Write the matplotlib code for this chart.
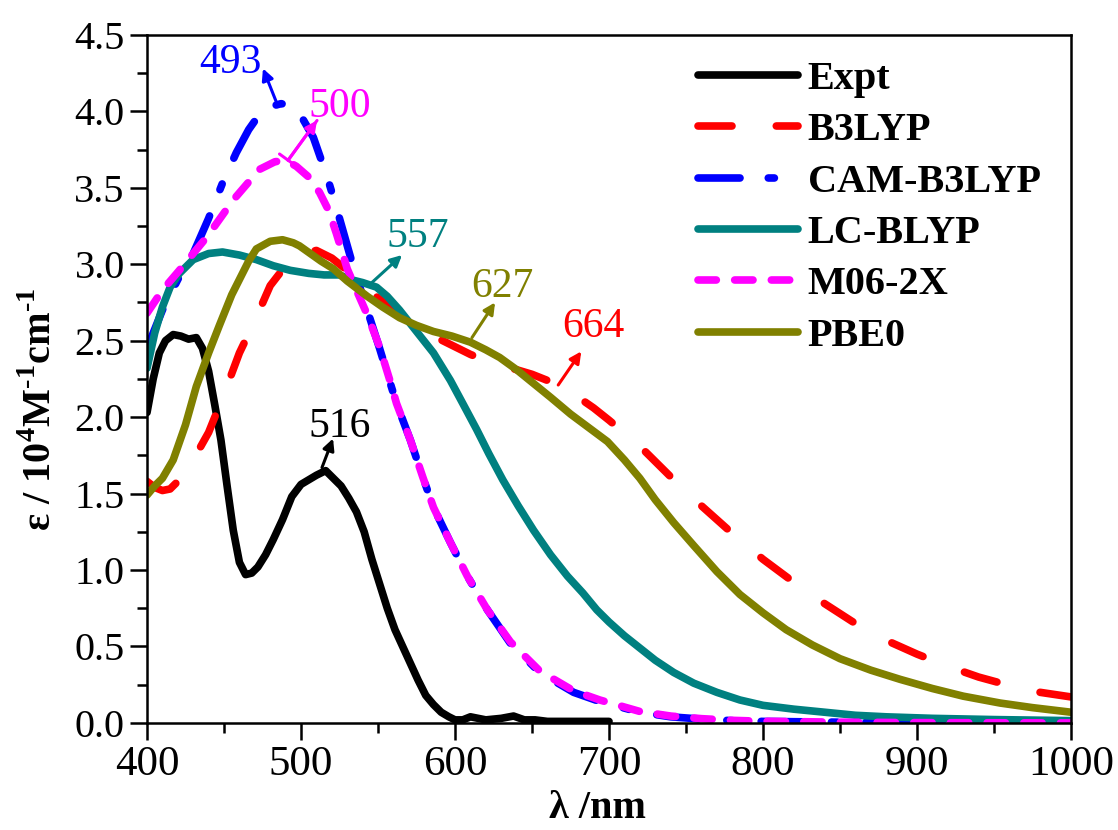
import numpy as np
import matplotlib
matplotlib.use('Agg')
import matplotlib.pyplot as plt

plt.rcParams['font.family'] = ['Liberation Serif', 'DejaVu Serif']
plt.rcParams['mathtext.fontset'] = 'custom'
plt.rcParams['mathtext.rm'] = 'Liberation Serif'
plt.rcParams['mathtext.bf'] = 'Liberation Serif:bold'

# Expt (experimental spectrum)
expt_x = [400, 404, 408, 412, 417, 422, 427, 432, 436, 440, 444, 448, 452, 456, 460, 464, 468, 472,
          477, 482, 488, 494, 500, 505, 510, 516, 521, 526, 531, 536, 541, 546, 551, 556, 561, 566,
          571, 576, 581, 586, 591, 596, 600, 605, 610, 615, 620, 630, 638, 645, 652, 660, 680, 700]
expt_y = [2.03, 2.25, 2.42, 2.50, 2.54, 2.53, 2.51, 2.52, 2.45, 2.30, 2.08, 1.85, 1.55, 1.26, 1.05, 0.97, 0.98, 1.02,
          1.10, 1.20, 1.33, 1.48, 1.56, 1.59, 1.62, 1.65, 1.60, 1.55, 1.47, 1.38, 1.25, 1.07, 0.91, 0.75, 0.61, 0.50,
          0.39, 0.28, 0.18, 0.12, 0.07, 0.04, 0.02, 0.02, 0.04, 0.03, 0.02, 0.03, 0.045, 0.02, 0.02, 0.01, 0.01, 0.01]

b3lyp_x = [400, 405, 410, 415, 420, 430, 440, 450, 460, 470, 480, 490, 500, 510, 520, 530, 540, 550, 560, 570,
           580, 590, 600, 610, 620, 630, 640, 650, 660, 670, 680, 690, 700, 720, 740, 760, 780, 800, 820, 840,
           860, 880, 900, 920, 940, 960, 980, 1000]
b3lyp_y = [1.58, 1.54, 1.52, 1.53, 1.58, 1.72, 1.90, 2.15, 2.42, 2.63, 2.86, 2.99, 3.07, 3.09, 3.04, 2.96, 2.86, 2.78, 2.70, 2.63,
           2.56, 2.51, 2.46, 2.41, 2.37, 2.34, 2.31, 2.28, 2.24, 2.19, 2.13, 2.06, 1.98, 1.81, 1.61, 1.42, 1.24, 1.07, 0.92, 0.78,
           0.65, 0.54, 0.45, 0.37, 0.30, 0.245, 0.20, 0.17]

cam_x = [400, 410, 420, 430, 440, 449, 458, 466, 473, 480, 487, 493, 500, 508, 517, 523, 534, 543, 551, 558, 562,
         571, 579, 586, 597, 608, 621, 636, 655, 677, 694, 720, 740, 760, 780, 800, 850, 900, 1000]
cam_y = [2.45, 2.70, 2.90, 3.07, 3.30, 3.53, 3.73, 3.88, 3.98, 4.03, 4.05, 4.04, 3.97, 3.83, 3.57, 3.37, 2.98, 2.70, 2.45, 2.22, 2.09,
         1.85, 1.61, 1.41, 1.18, 0.96, 0.74, 0.52, 0.33, 0.20, 0.14, 0.07, 0.04, 0.025, 0.015, 0.01, 0.005, 0.002, 0.0]

lc_x = [400, 405, 410, 415, 421, 430, 440, 449, 460, 471, 482, 493, 505, 515, 525, 532, 540, 549, 556, 564, 575,
        586, 597, 605, 614, 622, 631, 641, 651, 662, 673, 683, 692, 700, 710, 720, 730, 742, 755, 770, 785, 800,
        820, 840, 860, 880, 910, 950, 1000]
lc_y = [2.32, 2.55, 2.72, 2.85, 2.94, 3.03, 3.07, 3.08, 3.06, 3.03, 2.99, 2.96, 2.94, 2.93, 2.93, 2.90, 2.88, 2.85, 2.79, 2.70, 2.56,
        2.42, 2.24, 2.09, 1.92, 1.76, 1.59, 1.42, 1.26, 1.10, 0.96, 0.85, 0.74, 0.66, 0.57, 0.49, 0.41, 0.33, 0.26, 0.20, 0.15, 0.115,
        0.09, 0.07, 0.05, 0.04, 0.03, 0.022, 0.015]

m06_x = [400, 410, 421, 430, 439, 456, 473, 483, 490, 497, 505, 512, 518, 523, 530, 536, 543, 551, 558, 562, 571,
         579, 586, 597, 608, 621, 636, 655, 677, 694, 720, 740, 760, 780, 800, 850, 900, 1000]
m06_y = [2.68, 2.83, 2.96, 3.07, 3.18, 3.42, 3.62, 3.67, 3.68, 3.64, 3.57, 3.47, 3.35, 3.20, 2.97, 2.83, 2.67, 2.46, 2.23, 2.09, 1.85,
         1.61, 1.41, 1.18, 0.96, 0.74, 0.53, 0.34, 0.21, 0.15, 0.075, 0.045, 0.028, 0.017, 0.011, 0.005, 0.002, 0.0]

pbe0_x = [400, 405, 410, 417, 425, 432, 440, 447, 455, 460, 466, 471, 480, 488, 495, 499, 506, 513, 521, 530, 543,
          553, 564, 575, 586, 598, 610, 620, 629, 640, 651, 662, 675, 687, 699, 710, 720, 730, 742, 755, 770, 785,
          800, 815, 832, 850, 870, 889, 910, 930, 954, 975, 1000]
pbe0_y = [1.49, 1.55, 1.60, 1.72, 1.95, 2.20, 2.42, 2.60, 2.80, 2.90, 3.02, 3.10, 3.15, 3.16, 3.14, 3.12, 3.07, 3.02, 2.97, 2.89, 2.79,
          2.72, 2.65, 2.60, 2.56, 2.53, 2.49, 2.44, 2.39, 2.31, 2.22, 2.13, 2.02, 1.93, 1.84, 1.72, 1.60, 1.46, 1.31, 1.16, 0.99, 0.84,
          0.72, 0.61, 0.51, 0.42, 0.345, 0.285, 0.225, 0.175, 0.13, 0.10, 0.07]

# peak labels: text, colour, label position, arrow tail, arrow head
peaks = [('493', 'blue', (454, 4.32), (484.4, 4.05), (475.3, 4.28)),
         ('500', '#FF00FF', (525, 4.03), (491.6, 3.68), (510.4, 3.94)),
         ('557', '#008080', (576, 3.18), (546, 2.88), (565.6, 3.06)),
         ('627', '#808000', (631, 2.85), (611, 2.52), (626, 2.75)),
         ('664', 'red', (690, 2.59), (667, 2.21), (682, 2.43)),
         ('516', 'black', (525, 1.94), (513.6, 1.67), (520.8, 1.86))]

fig = plt.figure(figsize=(11.18, 8.30), dpi=100)
ax = fig.add_axes([0.1315, 0.129, 0.8265, 0.829])

lw = 5.5
kw = dict(lw=lw, solid_capstyle='round', dash_capstyle='round')
ax.plot(expt_x, expt_y, color='black', label='Expt', **kw)
ax.plot(b3lyp_x, b3lyp_y, color='red', ls=(0, (4.45, 5.8)), label='B3LYP', **kw)
ax.plot(cam_x, cam_y, color='blue', ls=(0, (5.5, 3.7, 0.8, 3.7)), label='CAM-B3LYP', **kw)
ax.plot(lc_x, lc_y, color='#008080', label='LC-BLYP', **kw)
ax.plot(m06_x, m06_y, color='#FF00FF', ls=(0, (2.4, 2.4)), label='M06-2X', **kw)
ax.plot(pbe0_x, pbe0_y, color='#808000', label='PBE0', **kw)

for txt, c, pos, tail, head in peaks:
    ax.text(pos[0], pos[1], txt, color=c, fontsize=30, ha='center', va='center')
    ax.annotate('', xy=head, xytext=tail,
                arrowprops=dict(arrowstyle='-|>', color=c, lw=2.2, mutation_scale=17,
                                shrinkA=0, shrinkB=0))
    if txt == '500':
        # small bar at the start of this arrow
        ax.annotate('', xy=head, xytext=tail,
                    arrowprops=dict(arrowstyle=']-, widthA=0.45, lengthA=0', color=c, lw=2.2,
                                    mutation_scale=17, shrinkA=0, shrinkB=0))

ax.set_xlim(400, 1000)
ax.set_ylim(0, 4.5)
ax.set_xticks(np.arange(400, 1001, 100))
ax.set_xticks(np.arange(450, 1000, 100), minor=True)
ax.set_yticks(np.arange(0, 4.51, 0.5))
ax.set_yticks(np.arange(0.25, 4.5, 0.5), minor=True)
ax.yaxis.set_major_formatter(matplotlib.ticker.FormatStrFormatter('%.1f'))
ax.tick_params(which='both', direction='out', top=False, right=False, width=1.8)
ax.tick_params(axis='x', labelsize=31)
ax.tick_params(axis='y', labelsize=29)
ax.tick_params(which='major', length=12, pad=4)
ax.tick_params(which='minor', length=7)
for s in ax.spines.values():
    s.set_linewidth(1.8)

ax.set_xlabel('λ /nm', fontsize=29, fontweight='bold')
ax.set_ylabel(r'ε / 10$^{\mathbf{4}}$M$^{\mathbf{\text{-}1}}$cm$^{\mathbf{\text{-}1}}$', fontsize=29,
              fontweight='bold')
ax.xaxis.set_label_coords(0.488, -0.097)
ax.yaxis.set_label_coords(-0.094, 0.455)

ax.legend(loc='upper left', bbox_to_anchor=(0.596, 0.962), frameon=False,
          prop=dict(size=29, weight='bold'), handlelength=2.48, handletextpad=0.25,
          labelspacing=0.35, borderpad=0, borderaxespad=0)

fig.savefig('out.png', dpi=100)
